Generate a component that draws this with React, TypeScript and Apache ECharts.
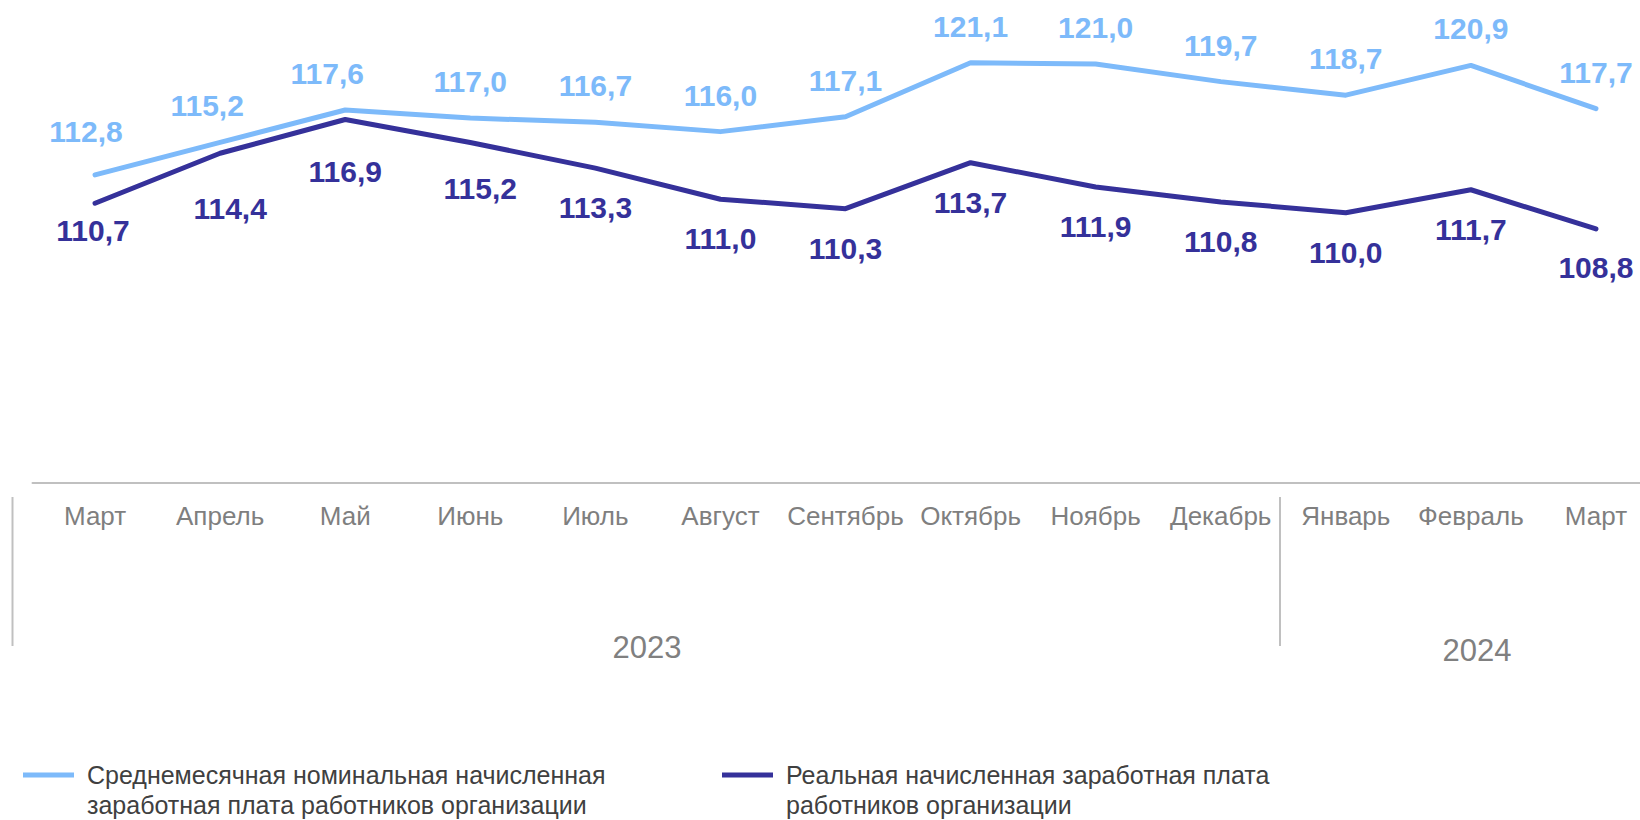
import React, { useEffect, useRef } from "react";
import * as echarts from "echarts";

const months = ["Март", "Апрель", "Май", "Июнь", "Июль", "Август", "Сентябрь", "Октябрь", "Ноябрь", "Декабрь", "Январь", "Февраль", "Март"];
const nominal = [112.8, 115.2, 117.6, 117.0, 116.7, 116.0, 117.1, 121.1, 121.0, 119.7, 118.7, 120.9, 117.7];
const real = [110.7, 114.4, 116.9, 115.2, 113.3, 111.0, 110.3, 113.7, 111.9, 110.8, 110.0, 111.7, 108.8];
const years = ["2023", "2024"];
const seriesNames = [
  "Среднемесячная номинальная начисленная\nзаработная плата работников организации",
  "Реальная начисленная заработная плата\nработников организации",
];

// label nudges (styling only), [dx, dy] in px
const nominalNudge = [[-9, -7], [-13, 0], [-18, 0], [0, 0], [0, 0], [0, 0], [0, 0], [0, 0], [0, 0], [0, 0], [0, 0], [0, 0], [0, 0]];
const realNudge = [[-2, -12], [10, 16], [0, 13], [10, 7], [0, 0], [0, 0], [0, 0], [0, 0], [0, 0], [0, 0], [0, 0], [0, 0], [0, -1]];

const FONT = "'Liberation Sans', Arial, Helvetica, sans-serif";
const LIGHT = "#7DBAFA";
const DARK = "#35319A";
const GRAY = "#c0c0c0";

const fmt = (v: number) => v.toFixed(1).replace(".", ",");

export default function App() {
  const ref = useRef<HTMLDivElement>(null);
  useEffect(() => {
    const chart = echarts.init(ref.current!, null, { renderer: "svg" });
    const labelBase = {
      show: true,
      fontFamily: FONT,
      fontSize: 30,
      fontWeight: "bold" as const,
      formatter: (p: any) => fmt(p.value),
    };
    const legendText = {
      fontFamily: FONT,
      fontSize: 25,
      color: "#404040",
      lineHeight: 30,
      padding: [0, 0, 0, 8],
    };
    const legendFormatter = (name: string) => "\n" + name;
    chart.setOption({
      animation: false,
      grid: { left: 32.5, width: 1626, top: 10, bottom: 337 },
      xAxis: {
        type: "category",
        data: months,
        boundaryGap: true,
        axisLine: { show: true, lineStyle: { color: GRAY, width: 2 } },
        axisTick: { show: false },
        axisLabel: { margin: 20, fontFamily: FONT, fontSize: 26, color: "#7f7f7f", interval: 0 },
        splitLine: { show: false },
      },
      yAxis: { type: "value", min: 90, max: 125, show: false },
      legend: [
        {
          left: 23, top: 730, padding: 0, icon: "rect", itemWidth: 51, itemHeight: 5,
          data: [seriesNames[0]], textStyle: legendText, selectedMode: false, formatter: legendFormatter,
        },
        {
          left: 722, top: 730, padding: 0, icon: "rect", itemWidth: 51, itemHeight: 5,
          data: [seriesNames[1]], textStyle: legendText, selectedMode: false, formatter: legendFormatter,
        },
      ],
      series: [
        {
          name: seriesNames[0],
          type: "line",
          data: nominal.map((v, i) => ({ value: v, label: { offset: nominalNudge[i] } })),
          color: LIGHT,
          symbol: "circle",
          symbolSize: 1,
          showSymbol: true,
          lineStyle: { width: 5, color: LIGHT, cap: "round", join: "round" },
          label: { ...labelBase, position: "top", distance: 21, color: LIGHT },
          z: 3,
        },
        {
          name: seriesNames[1],
          type: "line",
          data: real.map((v, i) => ({ value: v, label: { offset: realNudge[i] } })),
          color: DARK,
          symbol: "circle",
          symbolSize: 1,
          showSymbol: true,
          lineStyle: { width: 5, color: DARK, cap: "round", join: "round" },
          label: { ...labelBase, position: "bottom", distance: 24, color: DARK },
          z: 3,
        },
      ],
      graphic: [
        { type: "line", shape: { x1: 12.5, y1: 497, x2: 12.5, y2: 646 }, style: { stroke: GRAY, lineWidth: 2 } },
        { type: "line", shape: { x1: 1280, y1: 497, x2: 1280, y2: 646 }, style: { stroke: GRAY, lineWidth: 2 } },
        {
          type: "text", x: 647, y: 647,
          style: { text: years[0], fontFamily: FONT, fontSize: 31, fill: "#808080", align: "center", verticalAlign: "middle" },
        },
        {
          type: "text", x: 1477, y: 650,
          style: { text: years[1], fontFamily: FONT, fontSize: 31, fill: "#808080", align: "center", verticalAlign: "middle" },
        },
      ],
    });
    return () => chart.dispose();
  }, []);
  return (
    <div style={{ position: "fixed", left: 0, top: 0, width: 1640, height: 820, overflow: "hidden", background: "#fff" }}>
      <div ref={ref} style={{ position: "absolute", left: 0, top: 0, width: 1660, height: 820 }} />
    </div>
  );
}
